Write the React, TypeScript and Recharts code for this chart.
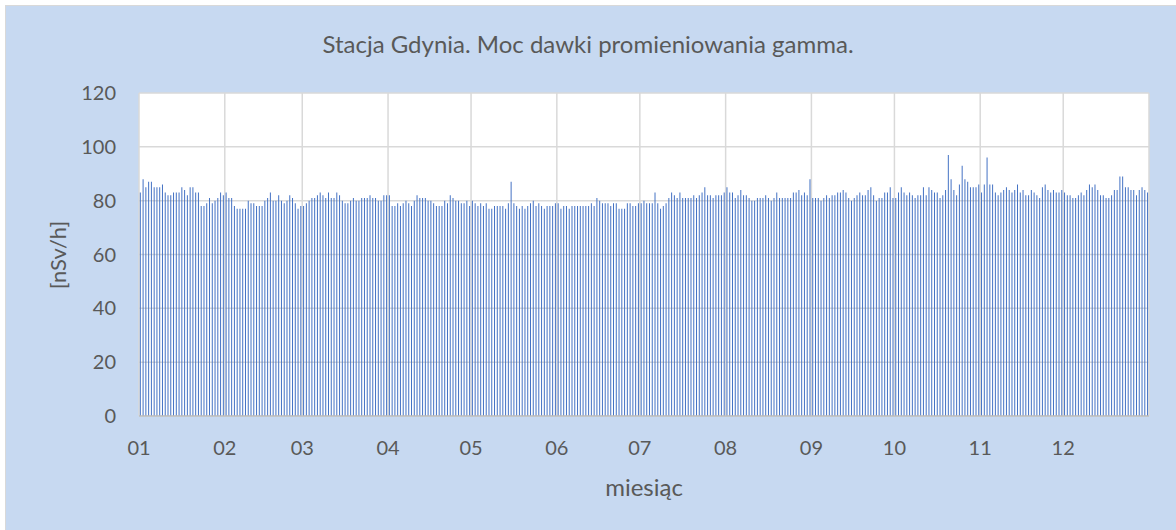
import React from 'react';
import { BarChart, Bar, XAxis, YAxis, CartesianGrid } from 'recharts';

// daily gamma dose rate, nSv/h
const JAN = [83, 88, 85, 87, 87, 85, 85, 85, 86, 83, 82, 82, 83, 83, 83, 85, 84, 82, 85, 85, 83, 83, 78, 78, 79, 81, 79, 80, 81, 83, 82];
const FEB = [83, 81, 81, 78, 77, 77, 77, 77, 80, 79, 79, 78, 78, 78, 80, 81, 83, 80, 80, 82, 80, 79, 80, 82, 81, 79, 77, 78];
const MAR = [78, 79, 80, 81, 81, 82, 83, 82, 81, 83, 81, 81, 83, 82, 80, 79, 79, 80, 81, 80, 80, 81, 81, 81, 82, 81, 81, 80, 80, 82, 82];
const APR = [82, 78, 78, 79, 78, 79, 80, 79, 78, 80, 82, 81, 81, 81, 80, 80, 79, 78, 78, 78, 80, 79, 82, 81, 80, 80, 79, 79, 80, 78];
const MAY = [80, 79, 78, 79, 78, 79, 77, 77, 78, 78, 78, 78, 77, 79, 87, 79, 78, 77, 78, 77, 78, 79, 80, 78, 79, 78, 77, 78, 78, 78, 79];
const JUN = [79, 77, 78, 78, 77, 78, 78, 78, 78, 78, 78, 78, 79, 78, 81, 80, 79, 79, 79, 78, 79, 79, 77, 77, 77, 79, 79, 78, 78, 79];
const JUL = [79, 80, 79, 79, 79, 83, 79, 77, 78, 79, 81, 83, 82, 81, 83, 81, 81, 81, 81, 82, 81, 82, 83, 85, 82, 82, 81, 82, 82, 82, 83];
const AUG = [85, 83, 83, 81, 82, 84, 82, 82, 81, 80, 80, 81, 81, 81, 82, 81, 80, 81, 83, 81, 81, 81, 81, 81, 83, 83, 84, 82, 83, 82, 88];
const SEP = [81, 81, 81, 80, 81, 82, 81, 82, 82, 83, 83, 84, 83, 81, 80, 81, 82, 83, 82, 82, 84, 85, 82, 80, 81, 81, 83, 83, 85, 81];
const OCT = [81, 83, 85, 83, 82, 83, 82, 81, 82, 82, 85, 82, 85, 84, 83, 83, 81, 82, 84, 97, 88, 84, 82, 86, 93, 88, 87, 85, 85, 85, 86];
const NOV = [83, 86, 96, 86, 86, 83, 82, 83, 84, 85, 84, 83, 84, 86, 83, 84, 82, 82, 84, 83, 82, 81, 85, 86, 84, 83, 84, 83, 83, 84];
const DEC = [83, 82, 82, 81, 81, 82, 83, 82, 84, 86, 85, 86, 84, 82, 82, 81, 81, 82, 84, 84, 89, 89, 85, 85, 84, 84, 82, 84, 85, 84, 83];

const MONTHS = [JAN, FEB, MAR, APR, MAY, JUN, JUL, AUG, SEP, OCT, NOV, DEC];
const MONTH_LABELS = ['01', '02', '03', '04', '05', '06', '07', '08', '09', '10', '11', '12'];
const Y_TICKS = [0, 20, 40, 60, 80, 100, 120];

// day index where each month starts (plus the end of the year)
const MONTH_STARTS: number[] = [0];
MONTHS.forEach((m) => MONTH_STARTS.push(MONTH_STARTS[MONTH_STARTS.length - 1] + m.length));

const data = MONTHS.flat().map((dose, d) => ({ d, dose }));

const TEXT = '#595959';

const monthLabel = (v: number) => {
  const i = MONTH_STARTS.indexOf(v);
  return i >= 0 && i < MONTH_LABELS.length ? MONTH_LABELS[i] : '';
};

export default function App() {
  return (
    <div style={{ position: 'absolute', left: 0, top: 0, width: 1176, height: 530, overflow: 'hidden', background: '#fff', fontFamily: 'Lato, sans-serif' }}>
      <div style={{ position: 'absolute', left: 5, top: 5, width: 1200, height: 560, background: '#C7D9F1', border: '1.5px solid #D9D9D9' }} />

      <div style={{ position: 'absolute', left: 0, top: 29, width: 1176, textAlign: 'center', fontSize: 24, lineHeight: '29px', color: TEXT }}>
        Stacja Gdynia. Moc dawki promieniowania gamma.
      </div>

      <div style={{ position: 'absolute', left: 57, top: 255, transform: 'translate(-50%, -50%) rotate(-90deg)', fontSize: 22, color: TEXT, whiteSpace: 'nowrap' }}>
        [nSv/h]
      </div>

      <div style={{ position: 'absolute', left: 0, top: 472, width: 1176, textAlign: 'center', paddingLeft: 112, boxSizing: 'border-box', fontSize: 24, lineHeight: '29px', color: TEXT }}>
        miesiąc
      </div>

      <div style={{ position: 'absolute', left: 0, top: 0 }}>
        <BarChart
          width={1176}
          height={530}
          data={data}
          margin={{ top: 93, right: 27, bottom: 84, left: 79 }}
          barCategoryGap="30%"
        >
          <CartesianGrid xAxisId="months" stroke="#D9D9D9" strokeWidth={1.5} fill="#FFFFFF" />
          <XAxis
            xAxisId="months"
            dataKey="d"
            type="number"
            domain={[0, 365]}
            ticks={MONTH_STARTS}
            interval={0}
            tickFormatter={monthLabel}
            tickLine={false}
            tickSize={0}
            tickMargin={25}
            height={30}
            axisLine={{ stroke: '#BFBFBF', strokeWidth: 1.5 }}
            tick={{ fill: TEXT, fontSize: 20 }}
          />
          <XAxis xAxisId="days" dataKey="d" type="category" hide height={0} />
          <YAxis
            domain={[0, 120]}
            ticks={Y_TICKS}
            interval={0}
            width={60}
            axisLine={false}
            tickLine={false}
            tickSize={0}
            tickMargin={23}
            tick={{ fill: TEXT, fontSize: 20 }}
          />
          <Bar xAxisId="days" dataKey="dose" fill="#4472C4" isAnimationActive={false} />
        </BarChart>
      </div>
    </div>
  );
}
